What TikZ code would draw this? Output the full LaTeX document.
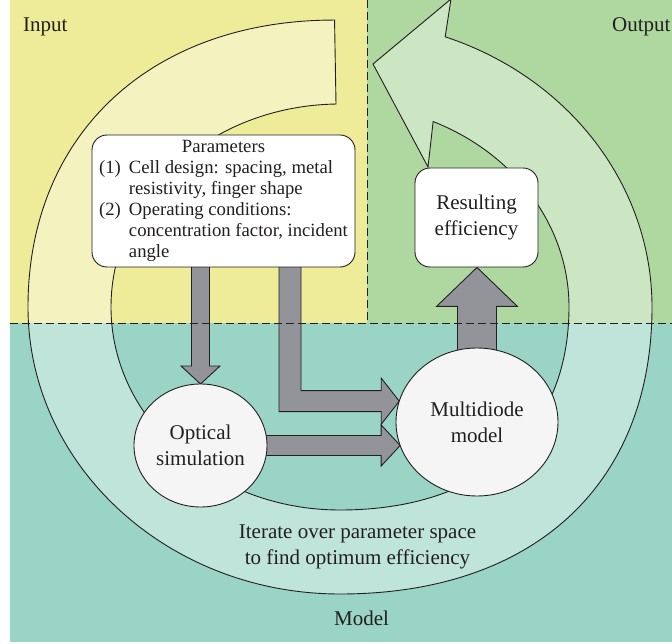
\documentclass[tikz,border=0pt]{standalone}
\usepackage{fontspec}
\setmainfont{Liberation Serif}
\usepackage{tikz}
\usetikzlibrary{positioning,calc,shapes.geometric}
\usepackage{xcolor}
\definecolor{inyellow}{RGB}{238,236,152}
\definecolor{outgreen}{RGB}{174,216,160}
\definecolor{modteal}{RGB}{153,212,196}
\definecolor{blockgray}{RGB}{147,148,153}
\definecolor{discwhite}{RGB}{245,245,245}
\definecolor{ink}{RGB}{35,31,32}
\newcommand{\zonefont}{\fontsize{21}{26}\selectfont}
\newcommand{\paramfont}{\fontsize{18.7}{21}\selectfont}
\pgfdeclarelayer{backdrop}
\pgfdeclarelayer{flow}
\pgfsetlayers{backdrop,flow,main}
\newcommand{\fatarrow}[5]{%
  \coordinate (fa-h) at ($(#2)!#5!(#1)$);
  \draw[blockarrow] ($(#1)!#3!90:(#2)$) -- ($(fa-h)!#3!90:(#2)$) -- ($(fa-h)!#4!90:(#2)$) -- (#2)
    -- ($(fa-h)!#4!-90:(#2)$) -- ($(fa-h)!#3!-90:(#2)$) -- ($(#1)!#3!-90:(#2)$) -- cycle;}

\begin{document}
\begin{tikzpicture}[x=1pt, y=1pt,
      inkline/.style={draw=ink, line width=0.9pt},
      box/.style={inkline, fill=white, rounded corners=15pt, inner sep=0pt,
                  align=center, text=ink},
      disc/.style={inkline, ellipse, fill=discwhite, inner sep=0pt, outer sep=0pt,
                   align=center, text=ink, font=\zonefont},
      blockarrow/.style={inkline, fill=blockgray, line join=miter},
      band/.style={inkline, fill=white, fill opacity=0.38},
      zone/.style={font=\zonefont, text=ink, anchor=base west, inner sep=0pt},
      divider/.style={draw=ink, line width=0.9pt, dash pattern=on 8pt off 4pt}]
    \useasboundingbox (0,-644) rectangle (672,0);
    \node[box, minimum width=263pt, minimum height=132pt, font=\paramfont] (par) at (223.5,-201)
      {\begin{tabular}{@{}l@{\hspace{8pt}}l@{}}
        \multicolumn{2}{@{}c@{}}{Parameters}\\
        (1) & Cell design: spacing, metal\\
            & resistivity, finger shape\\
        (2) & Operating conditions:\\
            & concentration factor, incident\\
            & angle
       \end{tabular}};
    \node[box, minimum width=123pt, minimum height=99pt, font=\zonefont] (res) at (476.5,-217.5)
      {Resulting\\efficiency};
    \node[disc, minimum width=133pt, minimum height=123pt] (opt) at (200.5,-445.5) {Optical\\simulation};
    \node[disc, minimum width=162pt, minimum height=148pt] (mdm) at (477,-422) {Multidiode\\model};
    \node[font=\zonefont, text=ink, align=center] (iter) at (357.5,-547)
      {Iterate over parameter space\\to find optimum efficiency};
    \node[zone] (in) at (23,-32) {Input};
    \node[zone] (out) at (612,-32) {Output};
    \node[zone] (mod) at (334,-625) {Model};
    \begin{pgfonlayer}{backdrop}
      \fill[inyellow] (10,0) rectangle (367,-323);
      \fill[outgreen] (367,0) rectangle (672,-323);
      \fill[modteal] (10,-323) rectangle (672,-642);
      \coordinate (hub) at (340,-307);
      \draw[band] ($(hub)+(91:312 and 287)$) .. controls (150.6,-20) and (28,-134.8) .. (28,-307)
        arc[start angle=180, end angle=270, x radius=312, y radius=287]
        .. controls (533.4,-594) and (652,-484.9) .. (652,-307)
        arc[start angle=0, end angle=70.3, x radius=312, y radius=287]
        -- (451,1) -- (373,-64) -- (428,-167) -- ($(hub)+(426:229 and 203)$)
        arc[start angle=426, end angle=360, x radius=229, y radius=203]
        .. controls (569,-432.9) and (482,-510) .. (340,-510)
        arc[start angle=270, end angle=91, x radius=229, y radius=203] -- cycle;
    \end{pgfonlayer}
    \begin{pgfonlayer}{flow}
      \coordinate (dtail) at (par.center -| opt.north);
      \fatarrow{dtail}{opt.north}{9pt}{19.5pt}{18pt}
      \coordinate (htail) at (opt.center |- mdm.197);
      \fatarrow{htail}{mdm.197}{10pt}{20.5pt}{19pt}
      \coordinate (utip) at (mdm.center |- res.south);
      \fatarrow{mdm.center}{utip}{19.5pt}{40.5pt}{39pt}
      \coordinate (etail) at ([xshift=66.5pt]par.center);
      \coordinate (bend) at (etail |- mdm.165);
      \draw[blockarrow] ([xshift=-11pt]etail) -- ([shift={(-11pt,-10.5pt)}]bend)
        -- ([shift={(-18pt,-10.5pt)}]mdm.165) -- ([shift={(-18pt,-23pt)}]mdm.165) -- (mdm.165)
        -- ([shift={(-18pt,23pt)}]mdm.165) -- ([shift={(-18pt,10.5pt)}]mdm.165)
        -- ([shift={(11pt,10.5pt)}]bend) -- ([xshift=11pt]etail) -- cycle;
      \draw[divider] (10,-323) -- (672,-323);
      \draw[divider] (367,0) -- (367,-323);
    \end{pgfonlayer}
\end{tikzpicture}
\end{document}
